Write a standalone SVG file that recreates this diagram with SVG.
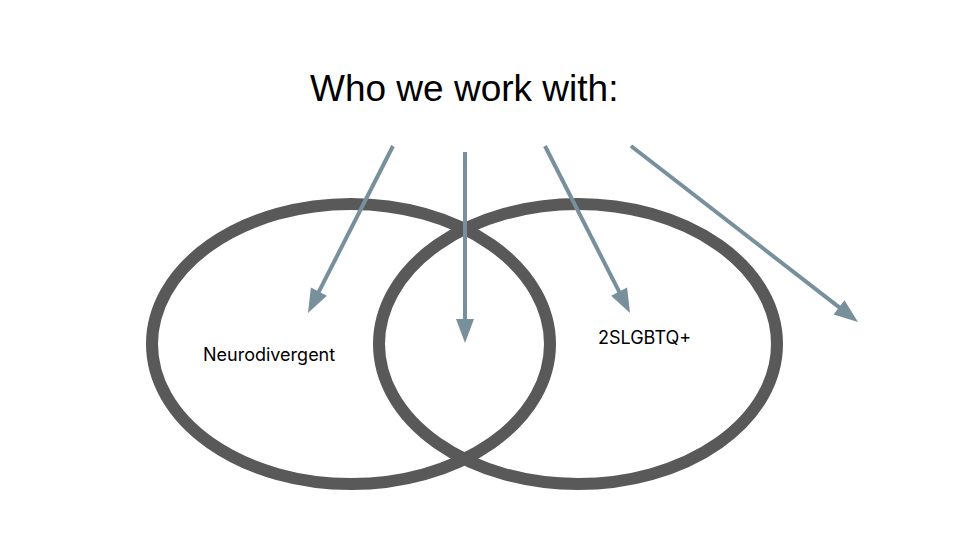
<svg xmlns="http://www.w3.org/2000/svg" width="960" height="540" viewBox="0 0 960 540">
<defs>
<style>
.ring{fill:none;stroke:#595959;stroke-width:12}
.arr{stroke:#78909c;stroke-width:4;fill:none}
.head{fill:#78909c;stroke:none}
.title{font-family:"Liberation Sans",Arial,sans-serif;font-size:37px;fill:#000}
.lbl{font-family:"Inter","Liberation Sans",sans-serif;font-size:18px;fill:#000}
</style>
</defs>
<rect width="960" height="540" fill="#fff"/>
<g id="title"><text class="title" x="310" y="101">Who we work with:</text></g>
<g id="neurodivergent">
<ellipse class="ring" cx="351" cy="344" rx="199" ry="140"/>
<text class="lbl" x="203" y="361">Neurodivergent</text>
</g>
<g id="lgbtq">
<ellipse class="ring" cx="578" cy="344" rx="199" ry="140"/>
<text class="lbl" x="598" y="344">2SLGBTQ+</text>
</g>
<g id="connectors">
<line class="arr" x1="393" y1="146" x2="317.1" y2="295.2"/>
<polygon class="head" points="308,313 326.9,295.7 310.9,287.5"/>
<line class="arr" x1="465" y1="152" x2="465" y2="323"/>
<polygon class="head" points="465,343 474,319 456,319"/>
<line class="arr" x1="545" y1="146" x2="620.9" y2="295.2"/>
<polygon class="head" points="630,313 611.1,295.7 627.1,287.5"/>
<line class="arr" x1="631" y1="146" x2="842.2" y2="309.7"/>
<polygon class="head" points="858,322 833.5,314.4 844.5,300.2"/>
</g>
</svg>
